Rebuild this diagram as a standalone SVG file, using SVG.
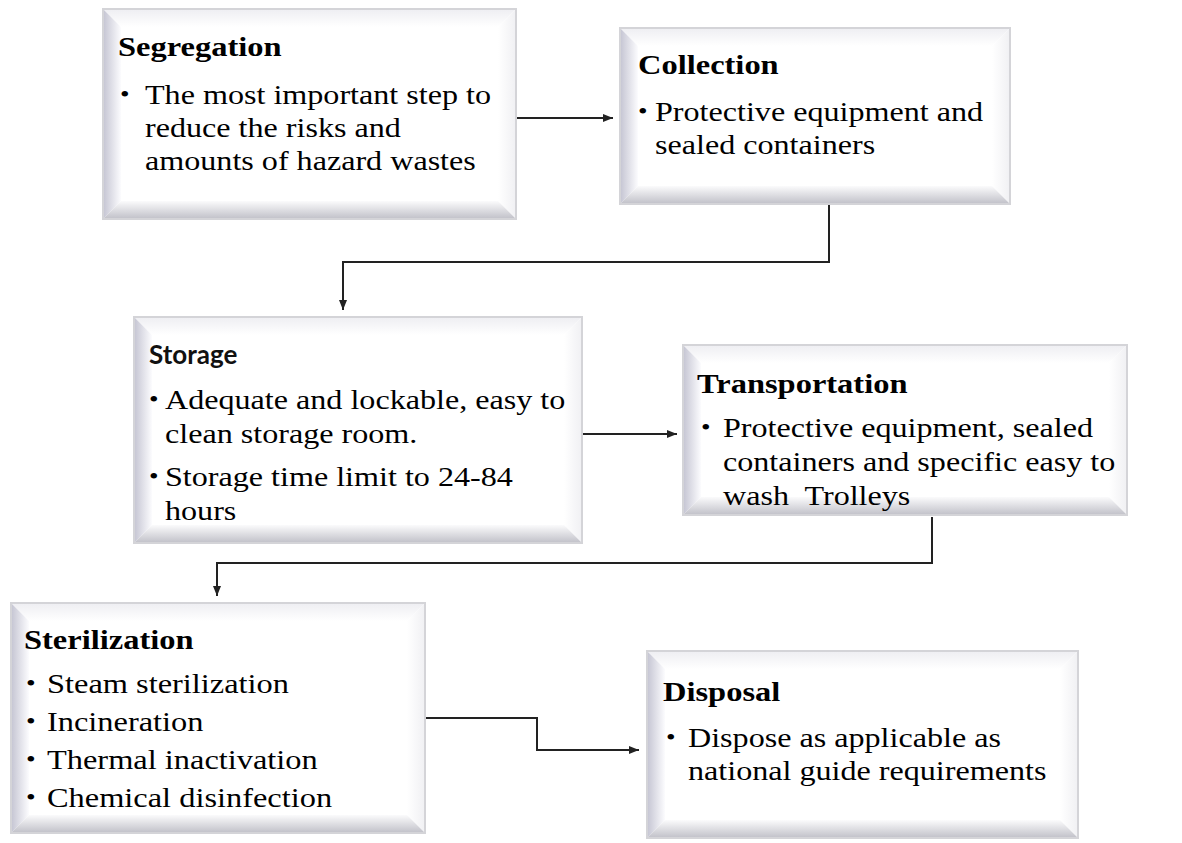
<svg xmlns="http://www.w3.org/2000/svg" width="1182" height="843" viewBox="0 0 1182 843">
<defs>
<linearGradient id="gL" x1="0" y1="0" x2="1" y2="0"><stop offset="0" stop-color="#c4c4d2"/><stop offset="1" stop-color="#fcfcfe"/></linearGradient>
<linearGradient id="gB" x1="0" y1="0" x2="0" y2="1"><stop offset="0" stop-color="#fbfbfc"/><stop offset="1" stop-color="#c0c0c8"/></linearGradient>
<linearGradient id="gT" x1="0" y1="0" x2="0" y2="1"><stop offset="0" stop-color="#eeeef2"/><stop offset="1" stop-color="#ffffff"/></linearGradient>
<linearGradient id="gR" x1="1" y1="0" x2="0" y2="0"><stop offset="0" stop-color="#f0f0f3"/><stop offset="1" stop-color="#ffffff"/></linearGradient>
<marker id="arr" markerWidth="10" markerHeight="8" refX="10" refY="4" orient="auto" markerUnits="userSpaceOnUse"><path d="M0,0 L10,4 L0,8 z" fill="#222"/></marker>
<style>
.frame{fill:#ffffff;stroke:#d4d4d8;stroke-width:2}
.edge{fill:none;stroke:#d4d4d8;stroke-width:2}
.l{fill:url(#gL)}.b{fill:url(#gB)}.t{fill:url(#gT)}.r{fill:url(#gR)}
.h{font-family:"Liberation Serif","Times New Roman",serif;font-weight:bold;font-size:28px;fill:#000}
.hs{font-family:Lato,"Open Sans",sans-serif;font-weight:bold;font-size:26px;fill:#111}
.tx{font-family:"Liberation Serif","Times New Roman",serif;font-size:27px;fill:#000}
.bu{font-family:"Liberation Serif","Times New Roman",serif;font-size:23px;fill:#000}
.conn{fill:none;stroke:#222;stroke-width:2}
</style>
</defs>
<rect width="1182" height="843" fill="#ffffff"/>

<g id="segregation">
<rect class="frame" x="103" y="9" width="413" height="210"/>
<polygon class="t" points="103,9 516,9 498,27 121,27"/>
<polygon class="r" points="516,9 516,219 498,201 498,27"/>
<polygon class="l" points="103,9 121,27 121,201 103,219"/>
<polygon class="b" points="103,219 121,201 498,201 516,219"/>
<rect class="edge" x="103" y="9" width="413" height="210"/>
<text class="h" transform="translate(118,56) scale(1.16,1)">Segregation</text>
<text class="bu" transform="translate(120,102) scale(1.19,1)">•</text>
<text class="tx" transform="translate(145,104) scale(1.19,1)">The most important step to</text>
<text class="tx" transform="translate(145,137) scale(1.19,1)">reduce the risks and</text>
<text class="tx" transform="translate(145,170) scale(1.19,1)">amounts of hazard wastes</text>
</g>

<g id="collection">
<rect class="frame" x="620" y="28" width="390" height="176"/>
<polygon class="t" points="620,28 1010,28 992,46 638,46"/>
<polygon class="r" points="1010,28 1010,204 992,186 992,46"/>
<polygon class="l" points="620,28 638,46 638,186 620,204"/>
<polygon class="b" points="620,204 638,186 992,186 1010,204"/>
<rect class="edge" x="620" y="28" width="390" height="176"/>
<text class="h" transform="translate(638,74) scale(1.16,1)">Collection</text>
<text class="bu" transform="translate(638,119) scale(1.19,1)">•</text>
<text class="tx" transform="translate(655,121) scale(1.19,1)">Protective equipment and</text>
<text class="tx" transform="translate(655,154) scale(1.19,1)">sealed containers</text>
</g>

<g id="storage">
<rect class="frame" x="134" y="317" width="448" height="226"/>
<polygon class="t" points="134,317 582,317 564,335 152,335"/>
<polygon class="r" points="582,317 582,543 564,525 564,335"/>
<polygon class="l" points="134,317 152,335 152,525 134,543"/>
<polygon class="b" points="134,543 152,525 564,525 582,543"/>
<rect class="edge" x="134" y="317" width="448" height="226"/>
<text class="hs" x="149" y="364">Storage</text>
<text class="bu" transform="translate(149,407) scale(1.19,1)">•</text>
<text class="tx" transform="translate(165,409) scale(1.19,1)">Adequate and lockable, easy to</text>
<text class="tx" transform="translate(165,443) scale(1.19,1)">clean storage room.</text>
<text class="bu" transform="translate(149,484) scale(1.19,1)">•</text>
<text class="tx" transform="translate(165,486) scale(1.19,1)">Storage time limit to 24-84</text>
<text class="tx" transform="translate(165,520) scale(1.19,1)">hours</text>
</g>

<g id="transportation">
<rect class="frame" x="683" y="345" width="444" height="170"/>
<polygon class="t" points="683,345 1127,345 1109,363 701,363"/>
<polygon class="r" points="1127,345 1127,515 1109,497 1109,363"/>
<polygon class="l" points="683,345 701,363 701,497 683,515"/>
<polygon class="b" points="683,515 701,497 1109,497 1127,515"/>
<rect class="edge" x="683" y="345" width="444" height="170"/>
<text class="h" transform="translate(697,393) scale(1.16,1)">Transportation</text>
<text class="bu" transform="translate(701,435) scale(1.19,1)">•</text>
<text class="tx" transform="translate(723,437) scale(1.19,1)">Protective equipment, sealed</text>
<text class="tx" transform="translate(723,471) scale(1.19,1)">containers and specific easy to</text>
<text class="tx" xml:space="preserve" transform="translate(723,505) scale(1.19,1)">wash  Trolleys</text>
</g>

<g id="sterilization">
<rect class="frame" x="11" y="603" width="414" height="230"/>
<polygon class="t" points="11,603 425,603 407,621 29,621"/>
<polygon class="r" points="425,603 425,833 407,815 407,621"/>
<polygon class="l" points="11,603 29,621 29,815 11,833"/>
<polygon class="b" points="11,833 29,815 407,815 425,833"/>
<rect class="edge" x="11" y="603" width="414" height="230"/>
<text class="h" transform="translate(24,649) scale(1.16,1)">Sterilization</text>
<text class="bu" transform="translate(26,691) scale(1.2,1)">•</text>
<text class="tx" transform="translate(47,693) scale(1.2,1)">Steam sterilization</text>
<text class="bu" transform="translate(26,729) scale(1.2,1)">•</text>
<text class="tx" transform="translate(47,731) scale(1.2,1)">Incineration</text>
<text class="bu" transform="translate(26,767) scale(1.2,1)">•</text>
<text class="tx" transform="translate(47,769) scale(1.2,1)">Thermal inactivation</text>
<text class="bu" transform="translate(26,805) scale(1.2,1)">•</text>
<text class="tx" transform="translate(47,807) scale(1.2,1)">Chemical disinfection</text>
</g>

<g id="disposal">
<rect class="frame" x="647" y="651" width="431" height="187"/>
<polygon class="t" points="647,651 1078,651 1060,669 665,669"/>
<polygon class="r" points="1078,651 1078,838 1060,820 1060,669"/>
<polygon class="l" points="647,651 665,669 665,820 647,838"/>
<polygon class="b" points="647,838 665,820 1060,820 1078,838"/>
<rect class="edge" x="647" y="651" width="431" height="187"/>
<text class="h" transform="translate(663,701) scale(1.16,1)">Disposal</text>
<text class="bu" transform="translate(666,745) scale(1.19,1)">•</text>
<text class="tx" transform="translate(688,747) scale(1.19,1)">Dispose as applicable as</text>
<text class="tx" transform="translate(688,780) scale(1.19,1)">national guide requirements</text>
</g>

<g id="connectors">
<path class="conn" marker-end="url(#arr)" d="M517,118 H613"/>
<path class="conn" marker-end="url(#arr)" d="M829,205 V262 H343 V310"/>
<path class="conn" marker-end="url(#arr)" d="M583,434 H677"/>
<path class="conn" marker-end="url(#arr)" d="M932,517 V563 H217 V596"/>
<path class="conn" marker-end="url(#arr)" d="M426,718 H537 V750 H639"/>
</g>
</svg>
